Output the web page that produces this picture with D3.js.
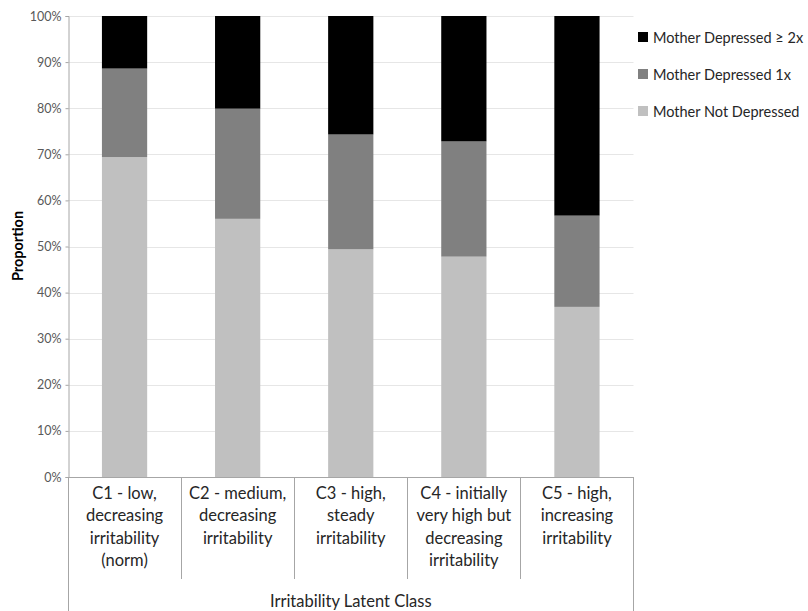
<!DOCTYPE html>
<html>
<head>
<meta charset="utf-8">
<script src="https://cdn.jsdelivr.net/npm/d3@7/dist/d3.min.js"></script>
<style>
  html, body { margin: 0; padding: 0; background: #fff; }
  svg { display: block; }
</style>
</head>
<body>
<svg id="chart" width="808" height="611"></svg>
<script>
// ---- Data ----
const categories = [
  ["C1 - low,", "decreasing", "irritability", "(norm)"],
  ["C2 - medium,", "decreasing", "irritability"],
  ["C3 - high,", "steady", "irritability"],
  ["C4 - initially", "very high but", "decreasing", "irritability"],
  ["C5 - high,", "increasing", "irritability"]
];
const seriesNames = ["Mother Not Depressed", "Mother Depressed 1x", "Mother Depressed \u2265 2x"];
const notDepressed = [69.4, 56.0, 49.4, 47.8, 36.9];
const depressed1x  = [19.2, 23.9, 24.9, 25.0, 19.8];
const depressed2x  = [11.4, 20.1, 25.7, 27.2, 43.3];
const yTicks = [0, 10, 20, 30, 40, 50, 60, 70, 80, 90, 100];
const colors = ["#c0c0c0", "#808080", "#000000"];
const yTitle = "Proportion";
const xTitle = "Irritability Latent Class";

(function () {
// ---- Layout ----
const svg = d3.select("#chart");
const mLeft = 68, mRight = 633.5, mTop = 16, mBottom = 477;
const FONT = "Lato, 'Open Sans', sans-serif";

const ids = categories.map((c, i) => "c" + i);
const rows = ids.map((id, i) => ({
  id,
  notDep: notDepressed[i],
  dep1: depressed1x[i],
  dep2: depressed2x[i]
}));
const keys = ["notDep", "dep1", "dep2"];
const stacked = d3.stack().keys(keys)(rows);

const x = d3.scaleBand().domain(ids).range([mLeft, mRight]).paddingInner(0.6).paddingOuter(0.3);
const xOuter = d3.scaleBand().domain(ids).range([mLeft, mRight]).padding(0);
const y = d3.scaleLinear().domain([0, 100]).range([mBottom, mTop]);

// gridlines
svg.append("g")
  .selectAll("line")
  .data(yTicks.filter(d => d > 0))
  .join("line")
  .attr("x1", mLeft).attr("x2", mRight)
  .attr("y1", d => Math.round(y(d)) + 0.5).attr("y2", d => Math.round(y(d)) + 0.5)
  .attr("stroke", "#e6e6e6").attr("stroke-width", 1);

// bars
svg.append("g")
  .selectAll("g")
  .data(stacked)
  .join("g")
  .attr("fill", (d, i) => colors[i])
  .selectAll("rect")
  .data(d => d)
  .join("rect")
  .attr("x", d => x(d.data.id))
  .attr("width", x.bandwidth())
  .attr("y", d => y(d[1]))
  .attr("height", d => y(d[0]) - y(d[1]));

// y axis
const yAxis = d3.axisLeft(y).tickValues(yTicks).tickFormat(d => d + "%").tickSize(3).tickPadding(4);
const gy = svg.append("g").attr("transform", `translate(${mLeft + 0.5},0)`).call(yAxis);
gy.select(".domain").attr("stroke", "#a6a6a6");
gy.selectAll(".tick line").attr("stroke", "#a6a6a6");
gy.selectAll(".tick text")
  .attr("font-family", FONT).attr("font-size", 12.5).attr("fill", "#595959");

// x axis line and category boxes
svg.append("line")
  .attr("x1", mLeft).attr("x2", mRight)
  .attr("y1", mBottom + 0.5).attr("y2", mBottom + 0.5)
  .attr("stroke", "#a6a6a6");
svg.append("line").attr("x1", mLeft + 0.5).attr("x2", mLeft + 0.5)
  .attr("y1", mBottom).attr("y2", 611).attr("stroke", "#a6a6a6");
svg.append("line").attr("x1", mRight).attr("x2", mRight)
  .attr("y1", mBottom).attr("y2", 611).attr("stroke", "#a6a6a6");
svg.append("g")
  .selectAll("line")
  .data(ids.slice(1))
  .join("line")
  .attr("x1", d => Math.round(xOuter(d)) + 0.5).attr("x2", d => Math.round(xOuter(d)) + 0.5)
  .attr("y1", mBottom).attr("y2", 579)
  .attr("stroke", "#a6a6a6");

// category labels
const catG = svg.append("g")
  .selectAll("text")
  .data(categories)
  .join("text")
  .attr("text-anchor", "middle")
  .attr("font-family", FONT).attr("font-size", 16.5).attr("fill", "#262626")
  .attr("x", (d, i) => xOuter(ids[i]) + xOuter.bandwidth() / 2)
  .attr("y", 499);
catG.selectAll("tspan")
  .data(d => d)
  .join("tspan")
  .attr("x", function () { return d3.select(this.parentNode).attr("x"); })
  .attr("dy", (d, i) => i === 0 ? 0 : 22.3)
  .text(d => d);

// x title
svg.append("text")
  .attr("x", (mLeft + mRight) / 2).attr("y", 607)
  .attr("text-anchor", "middle")
  .attr("font-family", FONT).attr("font-size", 16.5).attr("fill", "#262626")
  .text(xTitle);

// y title
svg.append("text")
  .attr("transform", `translate(23,246) rotate(-90)`)
  .attr("text-anchor", "middle")
  .attr("font-family", FONT).attr("font-size", 14.5).attr("font-weight", "bold").attr("fill", "#000")
  .text(yTitle);

// legend
const legendOrder = [2, 1, 0];
const lg = svg.append("g")
  .selectAll("g")
  .data(legendOrder)
  .join("g")
  .attr("transform", (d, i) => `translate(638,${37 + i * 37})`);
lg.append("rect").attr("x", 0).attr("y", -5).attr("width", 10).attr("height", 10)
  .attr("fill", d => colors[d]);
lg.append("text").attr("x", 15).attr("y", 5.5)
  .attr("font-family", FONT).attr("font-size", 14.5).attr("fill", "#262626")
  .text(d => seriesNames[d]);
})();
</script>
</body>
</html>
